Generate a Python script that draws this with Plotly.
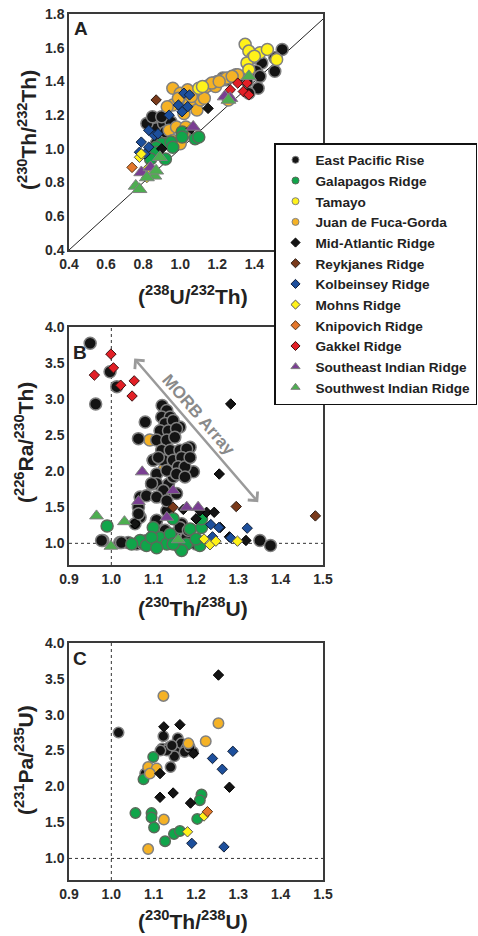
import plotly.graph_objects as go

# ---------------- Panel A data: (238U/232Th) vs (230Th/232Th) ----------------
a_epr_x = [1.55, 1.51, 1.51, 1.44, 1.41, 1.43, 1.42, 1.36, 1.37, 1.30, 1.23, 1.14, 1.18, 1.11, 1.25, 1.32,
           0.88, 0.87, 0.91, 0.89, 0.82, 0.85, 0.93, 0.87, 0.95, 1.16, 1.20, 0.90, 0.92]
a_epr_y = [1.59, 1.54, 1.46, 1.51, 1.46, 1.43, 1.36, 1.40, 1.33, 1.44, 1.42, 1.37, 1.39, 1.33, 1.41, 1.43,
           1.16, 1.12, 1.15, 1.06, 1.15, 1.19, 1.05, 1.03, 1.16, 1.38, 1.40, 1.19, 1.10]
a_gal_x = [1.01, 1.08, 0.90, 0.87, 0.92, 0.87, 0.84, 0.95, 1.10, 1.01, 0.96]
a_gal_y = [1.10, 1.06, 1.03, 1.01, 0.94, 0.98, 0.94, 1.04, 1.07, 1.07, 1.01]
a_tam_x = [1.35, 1.37, 1.43, 1.47, 1.39, 1.36, 1.52, 1.37, 1.40, 1.10, 1.12]
a_tam_y = [1.62, 1.58, 1.57, 1.59, 1.54, 1.51, 1.53, 1.47, 1.55, 1.36, 1.37]
a_jdf_x = [0.96, 1.00, 0.96, 1.05, 1.09, 1.11, 1.02, 0.94, 0.98, 1.03, 0.96, 1.00, 1.02, 1.14, 1.07,
           1.23, 1.31, 1.26, 1.13, 1.19, 1.17, 1.25, 1.28, 1.21, 0.99, 1.06, 0.93, 1.04]
a_jdf_y = [1.36, 1.33, 1.26, 1.27, 1.23, 1.29, 1.21, 1.11, 1.13, 1.13, 1.05, 1.03, 1.09, 1.37, 1.33,
           1.41, 1.44, 1.29, 1.30, 1.37, 1.39, 1.42, 1.43, 1.40, 1.30, 1.31, 1.25, 1.35]
a_mar_x = [1.15, 0.90, 1.06]
a_mar_y = [1.24, 1.00, 1.12]
a_rey_x = [0.87]
a_rey_y = [1.29]
a_kol_x = [1.02, 1.05, 0.99, 1.04, 1.01, 0.94, 0.83, 0.86, 0.79, 0.83, 0.78, 0.81, 0.88]
a_kol_y = [1.33, 1.32, 1.26, 1.25, 1.22, 1.20, 1.11, 1.08, 1.04, 1.01, 0.98, 0.97, 1.09]
a_moh_x = [0.78, 0.79, 0.82, 0.83]
a_moh_y = [0.95, 0.97, 0.83, 0.89]
a_kni_x = [0.74]
a_kni_y = [0.89]
a_gak_x = [1.31, 1.27, 1.36, 1.34, 1.37]
a_gak_y = [1.39, 1.35, 1.39, 1.34, 1.32]
a_seir_x = [0.79, 0.84, 1.07, 1.24, 1.27]
a_seir_y = [0.86, 0.89, 1.13, 1.31, 1.30]
a_swir_x = [0.76, 0.78, 0.86, 0.87, 0.82, 0.89, 1.37, 1.26]
a_swir_y = [0.78, 0.76, 0.84, 0.87, 0.83, 0.95, 1.43, 1.29]

# ---------------- Panel B data: (230Th/238U) vs (226Ra/230Th) ----------------
b_epr_x = [0.95, 0.997, 1.013, 0.963, 0.98, 1.08, 1.064, 1.099, 1.095, 1.194, 1.186, 1.162, 1.068, 1.068,
           1.056, 1.106, 1.127, 1.15, 1.166, 1.351, 1.376, 1.02, 1.04, 1.06, 1.076, 1.111, 1.131, 1.135,
           1.146, 1.107, 1.083, 1.20, 1.178, 1.131, 1.12, 1.131, 1.119, 1.139, 1.127, 1.146, 1.115, 1.135,
           1.154, 1.107, 1.131, 1.150, 1.119, 1.139, 1.162, 1.178, 1.123, 1.146, 1.166, 1.158, 1.174, 1.131,
           1.154, 1.174, 1.186, 1.111, 1.107, 1.123, 1.107, 1.064, 1.064, 1.107, 1.131, 0.977, 1.024, 1.083,
           1.162, 1.182, 1.154, 1.095]
b_epr_y = [3.77, 3.375, 3.17, 2.93, 1.04, 2.68, 2.45, 2.15, 1.82, 1.99, 2.33, 2.61, 1.64, 1.36, 1.27,
           1.31, 1.18, 1.13, 1.27, 1.04, 0.97, 1.01, 1.01, 0.99, 0.99, 1.07, 1.71, 1.82, 1.92, 1.96, 1.66,
           0.99, 1.08, 1.45, 2.91, 2.84, 2.75, 2.75, 2.66, 2.70, 2.56, 2.56, 2.59, 2.43, 2.43, 2.47, 2.29,
           2.29, 2.29, 2.31, 2.15, 2.15, 2.19, 2.06, 2.06, 2.01, 1.96, 1.92, 2.19, 2.19, 1.83, 1.73, 1.64,
           1.50, 1.41, 1.32, 1.59, 1.04, 1.01, 1.04, 1.22, 1.18, 1.69, 1.83]
b_gal_x = [0.99, 1.099, 1.146, 1.186, 1.213, 1.213, 1.115, 1.131, 1.162, 1.178, 1.209, 1.068, 1.083,
           1.095, 1.139, 1.166, 1.20, 1.048, 1.107, 1.146]
b_gal_y = [1.24, 1.22, 1.34, 1.20, 1.22, 1.34, 1.08, 0.99, 0.94, 0.99, 0.97, 1.04, 0.97, 1.08, 1.13,
           0.90, 1.06, 0.99, 0.94, 0.99]
b_jdf_x = [1.091, 1.099, 1.125]
b_jdf_y = [2.43, 2.15, 2.03]
b_mar_x = [1.282, 1.255, 1.225, 1.243, 1.209, 1.257, 1.279, 1.318, 1.056, 1.20, 1.17]
b_mar_y = [2.93, 1.96, 1.43, 1.43, 1.45, 1.22, 1.09, 1.04, 1.27, 1.34, 1.47]
b_rey_x = [1.295, 1.482, 1.146]
b_rey_y = [1.51, 1.38, 1.50]
b_kol_x = [1.235, 1.254, 1.321, 1.239, 1.282]
b_kol_y = [1.26, 1.22, 1.21, 1.09, 1.075]
b_moh_x = [1.219, 1.233, 1.247, 1.298]
b_moh_y = [1.06, 0.98, 1.03, 1.03]
b_gak_x = [0.999, 1.005, 0.96, 1.022, 1.054, 1.049]
b_gak_y = [3.62, 3.43, 3.33, 3.19, 3.25, 3.04]
b_seir_x = [1.073, 1.064, 1.178, 1.205, 1.146, 1.131]
b_seir_y = [1.99, 1.58, 1.50, 1.50, 1.73, 1.36]
b_swir_x = [0.965, 1.031, 0.999, 1.158]
b_swir_y = [1.38, 1.30, 0.96, 1.05]

# ---------------- Panel C data: (230Th/238U) vs (231Pa/235U) ----------------
c_epr_x = [1.017, 1.123, 1.12, 1.137, 1.153, 1.157, 1.165, 1.177, 1.149, 1.193, 1.131, 1.143, 1.173,
           1.14, 1.08, 1.185, 1.116]
c_epr_y = [2.75, 2.70, 2.53, 2.55, 2.50, 2.67, 2.60, 2.53, 2.42, 2.48, 2.50, 2.57, 2.48, 2.27, 2.18,
           2.55, 2.50]
c_gal_x = [1.099, 1.076, 1.057, 1.095, 1.095, 1.101, 1.127, 1.148, 1.162, 1.213, 1.209, 1.203]
c_gal_y = [2.41, 2.10, 1.63, 1.63, 1.57, 1.43, 1.24, 1.34, 1.38, 1.89, 1.81, 1.55]
c_jdf_x = [1.123, 1.253, 1.223, 1.182, 1.087, 1.107, 1.091, 1.124, 1.087]
c_jdf_y = [3.26, 2.88, 2.63, 2.60, 2.27, 2.25, 2.18, 1.54, 1.13]
c_mar_x = [1.253, 1.124, 1.162, 1.115, 1.115, 1.146, 1.187, 1.279, 1.194]
c_mar_y = [3.55, 2.83, 2.86, 2.18, 1.85, 1.91, 1.77, 1.99, 2.46]
c_kol_x = [1.239, 1.262, 1.287, 1.19, 1.266]
c_kol_y = [2.39, 2.24, 2.49, 1.21, 1.16]
c_moh_x = [1.18, 1.219]
c_moh_y = [1.37, 1.59]
c_kni_x = [1.227]
c_kni_y = [1.65]

# ---------------- Labels ----------------
series_names = ["East Pacific Rise", "Galapagos Ridge", "Tamayo", "Juan de Fuca-Gorda",
                "Mid-Atlantic Ridge", "Reykjanes Ridge", "Kolbeinsey Ridge", "Mohns Ridge",
                "Knipovich Ridge", "Gakkel Ridge", "Southeast Indian Ridge", "Southwest Indian Ridge"]
x_ticks_a = [0.4, 0.6, 0.8, 1.0, 1.2, 1.4, 1.6]
y_ticks_a = [0.4, 0.6, 0.8, 1.0, 1.2, 1.4, 1.6, 1.8]
x_ticks_bc = [0.9, 1.0, 1.1, 1.2, 1.3, 1.4, 1.5]
y_ticks_bc = [1.0, 1.5, 2.0, 2.5, 3.0, 3.5, 4.0]
one_to_one = [0.4, 1.8]
secular_eq = 1.0

# ---------------- Styles ----------------
GREY_EDGE = "#808080"
style = {
    "East Pacific Rise": ("circle", "#141414", GREY_EDGE, 1.5),
    "Galapagos Ridge": ("circle", "#10a54a", "#5a6a5a", 1.5),
    "Tamayo": ("circle", "#fff21a", GREY_EDGE, 1.5),
    "Juan de Fuca-Gorda": ("circle", "#f5b225", GREY_EDGE, 1.5),
    "Mid-Atlantic Ridge": ("diamond", "#141414", "#000000", 1),
    "Reykjanes Ridge": ("diamond", "#7a3a1b", "#2a1a10", 1),
    "Kolbeinsey Ridge": ("diamond", "#1d4f9c", "#10203a", 1),
    "Mohns Ridge": ("diamond", "#fff21a", "#555555", 1),
    "Knipovich Ridge": ("diamond", "#e5772b", "#553010", 1),
    "Gakkel Ridge": ("diamond", "#e21f26", "#401010", 1),
    "Southeast Indian Ridge": ("triangle-up", "#7a3f92", GREY_EDGE, 1),
    "Southwest Indian Ridge": ("triangle-up", "#4dae50", GREY_EDGE, 1),
}
sizes = {"circle": 12, "diamond": 8, "triangle-up": 12}

fig = go.Figure()


def add(name, xs, ys, xa, ya, csize=12, tsize=12):
    sym, fill, edge, lw = style[name]
    size = csize if sym == "circle" else (tsize if sym == "triangle-up" else sizes[sym])
    fig.add_trace(go.Scatter(
        x=xs, y=ys, mode="markers", name=name, showlegend=False,
        xaxis=xa, yaxis=ya,
        marker=dict(symbol=sym, size=size, color=fill, line=dict(color=edge, width=lw)),
        hoverinfo="skip"))


# Panel A
fig.add_trace(go.Scatter(x=one_to_one, y=one_to_one, mode="lines", showlegend=False,
                         line=dict(color="#222", width=1), xaxis="x", yaxis="y", hoverinfo="skip"))
panel_a = [("East Pacific Rise", a_epr_x, a_epr_y), ("Juan de Fuca-Gorda", a_jdf_x, a_jdf_y),
           ("Galapagos Ridge", a_gal_x, a_gal_y), ("Tamayo", a_tam_x, a_tam_y),
           ("Mid-Atlantic Ridge", a_mar_x, a_mar_y), ("Reykjanes Ridge", a_rey_x, a_rey_y),
           ("Kolbeinsey Ridge", a_kol_x, a_kol_y), ("Mohns Ridge", a_moh_x, a_moh_y),
           ("Knipovich Ridge", a_kni_x, a_kni_y), ("Gakkel Ridge", a_gak_x, a_gak_y),
           ("Southeast Indian Ridge", a_seir_x, a_seir_y), ("Southwest Indian Ridge", a_swir_x, a_swir_y)]
for n, xs, ys in panel_a:
    add(n, xs, ys, "x", "y", 12, 13)

# Panel B
panel_b = [("Juan de Fuca-Gorda", b_jdf_x, b_jdf_y), ("East Pacific Rise", b_epr_x, b_epr_y),
           ("Galapagos Ridge", b_gal_x, b_gal_y), ("Mid-Atlantic Ridge", b_mar_x, b_mar_y),
           ("Reykjanes Ridge", b_rey_x, b_rey_y), ("Kolbeinsey Ridge", b_kol_x, b_kol_y),
           ("Mohns Ridge", b_moh_x, b_moh_y), ("Gakkel Ridge", b_gak_x, b_gak_y),
           ("Southeast Indian Ridge", b_seir_x, b_seir_y), ("Southwest Indian Ridge", b_swir_x, b_swir_y)]
for n, xs, ys in panel_b:
    add(n, xs, ys, "x2", "y2", 12, 12)

# Panel C
panel_c = [("East Pacific Rise", c_epr_x, c_epr_y), ("Galapagos Ridge", c_gal_x, c_gal_y),
           ("Juan de Fuca-Gorda", c_jdf_x, c_jdf_y), ("Mid-Atlantic Ridge", c_mar_x, c_mar_y),
           ("Kolbeinsey Ridge", c_kol_x, c_kol_y), ("Mohns Ridge", c_moh_x, c_moh_y),
           ("Knipovich Ridge", c_kni_x, c_kni_y)]
for n, xs, ys in panel_c:
    add(n, xs, ys, "x3", "y3", 10.5, 11)

# Legend entries
for n in series_names:
    sym, fill, edge, lw = style[n]
    fig.add_trace(go.Scatter(x=[None], y=[None], mode="markers", name=n, showlegend=True,
                             xaxis="x", yaxis="y",
                             marker=dict(symbol=sym, size=7 if sym != "triangle-up" else 8,
                                         color=fill, line=dict(color=edge, width=1))))

W, H = 478, 936
FONT = "Liberation Sans, Arial, Helvetica, sans-serif"


def axis(dom, rng, ticks, anchor):
    return dict(domain=dom, range=rng, tickvals=ticks, tickformat=".1f", showgrid=False, zeroline=False,
                showline=True, mirror=True, linecolor="#3a3a3a", linewidth=1.5, ticks="",
                tickfont=dict(family=FONT, size=14, color="#2a2a2a", weight="bold"),
                anchor=anchor, automargin=False, fixedrange=True)


xa_dom = [69 / W, 323 / W]
fig.update_layout(
    width=W, height=H, margin=dict(l=0, r=0, t=0, b=0, autoexpand=False),
    paper_bgcolor="white", plot_bgcolor="white",
    font=dict(family=FONT, color="#222"),
    xaxis=axis(xa_dom, [0.4, 1.77], x_ticks_a, "y"),
    yaxis=axis([1 - 250 / H, 1 - 14 / H], [0.4, 1.8], y_ticks_a, "x"),
    xaxis2=axis(xa_dom, [0.9, 1.5], x_ticks_bc, "y2"),
    yaxis2=axis([1 - 565 / H, 1 - 326.7 / H], [0.7, 4.0], y_ticks_bc, "x2"),
    xaxis3=axis(xa_dom, [0.9, 1.5], x_ticks_bc, "y3"),
    yaxis3=axis([1 - 880 / H, 1 - 642.7 / H], [0.7, 4.0], y_ticks_bc, "x3"),
    legend=dict(x=274 / W, y=1 - 143 / H, xanchor="left", yanchor="top",
                bgcolor="white", bordercolor="#111", borderwidth=1.5,
                font=dict(family=FONT, size=13.6, color="#222", weight="bold"),
                itemsizing="trace", traceorder="normal"),
    showlegend=True,
)

# Dashed secular-equilibrium lines
for xr, yr, rng_x, rng_y in [("x2", "y2", [0.9, 1.5], [0.7, 4.0]), ("x3", "y3", [0.9, 1.5], [0.7, 4.0])]:
    fig.add_shape(type="line", xref=xr, yref=yr, x0=secular_eq, x1=secular_eq, y0=rng_y[0], y1=rng_y[1],
                  line=dict(color="#333", width=1, dash="3px,3px"), layer="below")
    fig.add_shape(type="line", xref=xr, yref=yr, x0=rng_x[0], x1=rng_x[1], y0=secular_eq, y1=secular_eq,
                  line=dict(color="#333", width=1, dash="3px,3px"), layer="below")

# MORB Array arrow
fig.add_annotation(xref="x2", yref="y2", axref="x2", ayref="y2", x=1.347, y=1.57, ax=1.051, ay=3.58,
                   text="", showarrow=True, arrowhead=4, startarrowhead=4, arrowside="end+start",
                   arrowsize=1, startarrowsize=1, arrowwidth=2.5, arrowcolor="#9a9a9a")
fig.add_annotation(xref="x2", yref="y2", x=1.205, y=2.78, text="MORB Array", showarrow=False,
                   textangle=49, font=dict(family=FONT, size=17, color="#8a8a8a", weight="bold"))

# Panel letters and axis titles
def ptxt(px, py, text, size, angle=0):
    fig.add_annotation(xref="paper", yref="paper", x=px / W, y=1 - py / H, text=text, showarrow=False,
                       textangle=angle, xanchor="center", yanchor="middle",
                       font=dict(family=FONT, size=size, color="#222", weight="bold"))


ptxt(81, 28, "A", 19)
ptxt(80, 352, "B", 19)
ptxt(80, 658, "C", 19)
ptxt(193, 295, "(<sup>238</sup>U/<sup>232</sup>Th)", 21)
ptxt(27, 130, "(<sup>230</sup>Th/<sup>232</sup>Th)", 21, -90)
ptxt(193, 607, "(<sup>230</sup>Th/<sup>238</sup>U)", 21)
ptxt(24, 443, "(<sup>226</sup>Ra/<sup>230</sup>Th)", 21, -90)
ptxt(193, 920, "(<sup>230</sup>Th/<sup>238</sup>U)", 21)
ptxt(24, 760, "(<sup>231</sup>Pa/<sup>235</sup>U)", 21, -90)

fig.write_html("out.html", config={"displayModeBar": False},
               post_script="document.body.style.margin='0';")
